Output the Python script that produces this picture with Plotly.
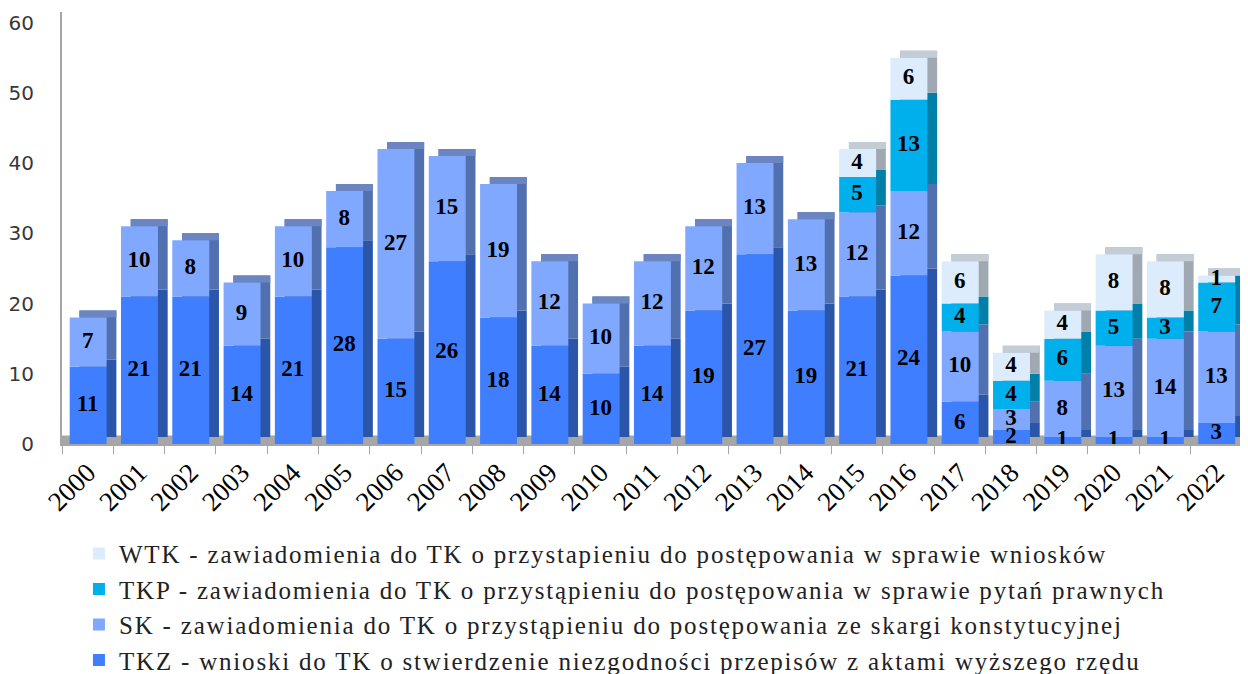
import plotly.graph_objects as go

years = [str(y) for y in range(2000, 2023)]
tkz = [11, 21, 21, 14, 21, 28, 15, 26, 18, 14, 10, 14, 19, 27, 19, 21, 24, 6, 2, 1, 1, 1, 3]
sk = [7, 10, 8, 9, 10, 8, 27, 15, 19, 12, 10, 12, 12, 13, 13, 12, 12, 10, 3, 8, 13, 14, 13]
tkp = [0, 0, 0, 0, 0, 0, 0, 0, 0, 0, 0, 0, 0, 0, 0, 5, 13, 4, 4, 6, 5, 3, 7]
wtk = [0, 0, 0, 0, 0, 0, 0, 0, 0, 0, 0, 0, 0, 0, 0, 4, 6, 6, 4, 4, 8, 8, 1]

names = [
    "TKZ - wnioski do TK o stwierdzenie niezgodności przepisów z aktami wyższego rzędu",
    "SK - zawiadomienia do TK o przystąpieniu do postępowania ze skargi konstytucyjnej",
    "TKP - zawiadomienia do TK o przystąpieniu do postępowania w sprawie pytań prawnych",
    "WTK - zawiadomienia do TK o przystapieniu do postępowania w sprawie wniosków",
]
series = [tkz, sk, tkp, wtk]
front_colors = ["#3f7fff", "#80a8ff", "#00b0ec", "#dcecfc"]
side_colors = ["#2b55a8", "#5070b0", "#0080a8", "#a0a8b2"]
cap_colors = ["#4c70c0", "#6b85c0", "#2b95bb", "#c4ccd6"]

W = 0.72
OFF = -0.35
DX = 0.19
DY = 1.0

n = len(years)
bases = []
cum = [0] * n
for s in series:
    bases.append(list(cum))
    cum = [c + v for c, v in zip(cum, s)]
totals = cum

top_idx = []
for i in range(n):
    t = 0
    for k, s in enumerate(series):
        if s[i] > 0:
            t = k
    top_idx.append(t)

fig = go.Figure()

# side faces (3D depth)
for k, s in enumerate(series):
    fig.add_trace(go.Bar(
        x=years, y=s, base=[b + DY for b in bases[k]],
        width=W, offset=OFF + DX,
        marker=dict(color=side_colors[k], line=dict(width=0)),
        showlegend=False, hoverinfo="skip",
    ))

# top faces
fig.add_trace(go.Bar(
    x=years, y=[DY] * n, base=totals,
    width=W, offset=OFF + DX,
    marker=dict(color=[cap_colors[t] for t in top_idx], line=dict(width=0)),
    showlegend=False, hoverinfo="skip",
))

# front faces
for k, s in enumerate(series):
    fig.add_trace(go.Bar(
        x=years, y=s, base=bases[k],
        name='<span style="letter-spacing:1.8px">' + names[k] + "</span>",
        width=W, offset=OFF,
        marker=dict(color=front_colors[k], line=dict(width=0)),
        hoverinfo="skip",
    ))

# value labels drawn on top of all bars
for k, s in enumerate(series):
    fig.add_trace(go.Scatter(
        x=years, y=[b + v / 2 for b, v in zip(bases[k], s)],
        mode="text", text=[str(v) if v > 0 else "" for v in s],
        textposition="middle center", cliponaxis=False,
        textfont=dict(family="Liberation Serif", size=23, color="#000000", weight="bold"),
        showlegend=False, hoverinfo="skip",
    ))

fig.update_layout(
    width=1240, height=666,
    barmode="overlay",
    plot_bgcolor="white", paper_bgcolor="white",
    margin=dict(l=54, r=0, t=4, b=230, autoexpand=False),
    xaxis=dict(
        type="category", range=[-0.5, 22.62],
        showline=True, linecolor="#a6a6a6", linewidth=2,
        ticks="outside", tickson="boundaries", ticklen=8, tickcolor="#a6a6a6",
        tickangle=-45,
        tickfont=dict(family="Liberation Serif", size=27, color="#000000"),
        showgrid=False,
    ),
    yaxis=dict(
        range=[0, 61.5], tickvals=[0, 10, 20, 30, 40, 50, 60],
        showgrid=False, zeroline=False,
        showline=True, linecolor="#a6a6a6", linewidth=2,
        ticklabelstandoff=22,
        tickfont=dict(family="DejaVu Sans", size=20, color="#383838"),
    ),
    yaxis2=dict(
        overlaying="y", range=[-1.4, 60.1], tickvals=[10, 20, 30, 40, 50, 60],
        showgrid=True, gridcolor="#e8e8e8", gridwidth=2,
        showticklabels=False, zeroline=False, showline=False,
    ),
    legend=dict(
        traceorder="reversed",
        x=0.0143, y=-0.201, xanchor="left", yanchor="top",
        font=dict(family="Liberation Serif", size=25, color="#222222"),
        bgcolor="rgba(0,0,0,0)",
    ),
    shapes=[dict(type="rect", xref="paper", yref="y", x0=0, x1=1, y0=0, y1=1.2,
                 fillcolor="#a6a6a6", line=dict(width=0), layer="below")],
)

fig.write_html("out.html")
